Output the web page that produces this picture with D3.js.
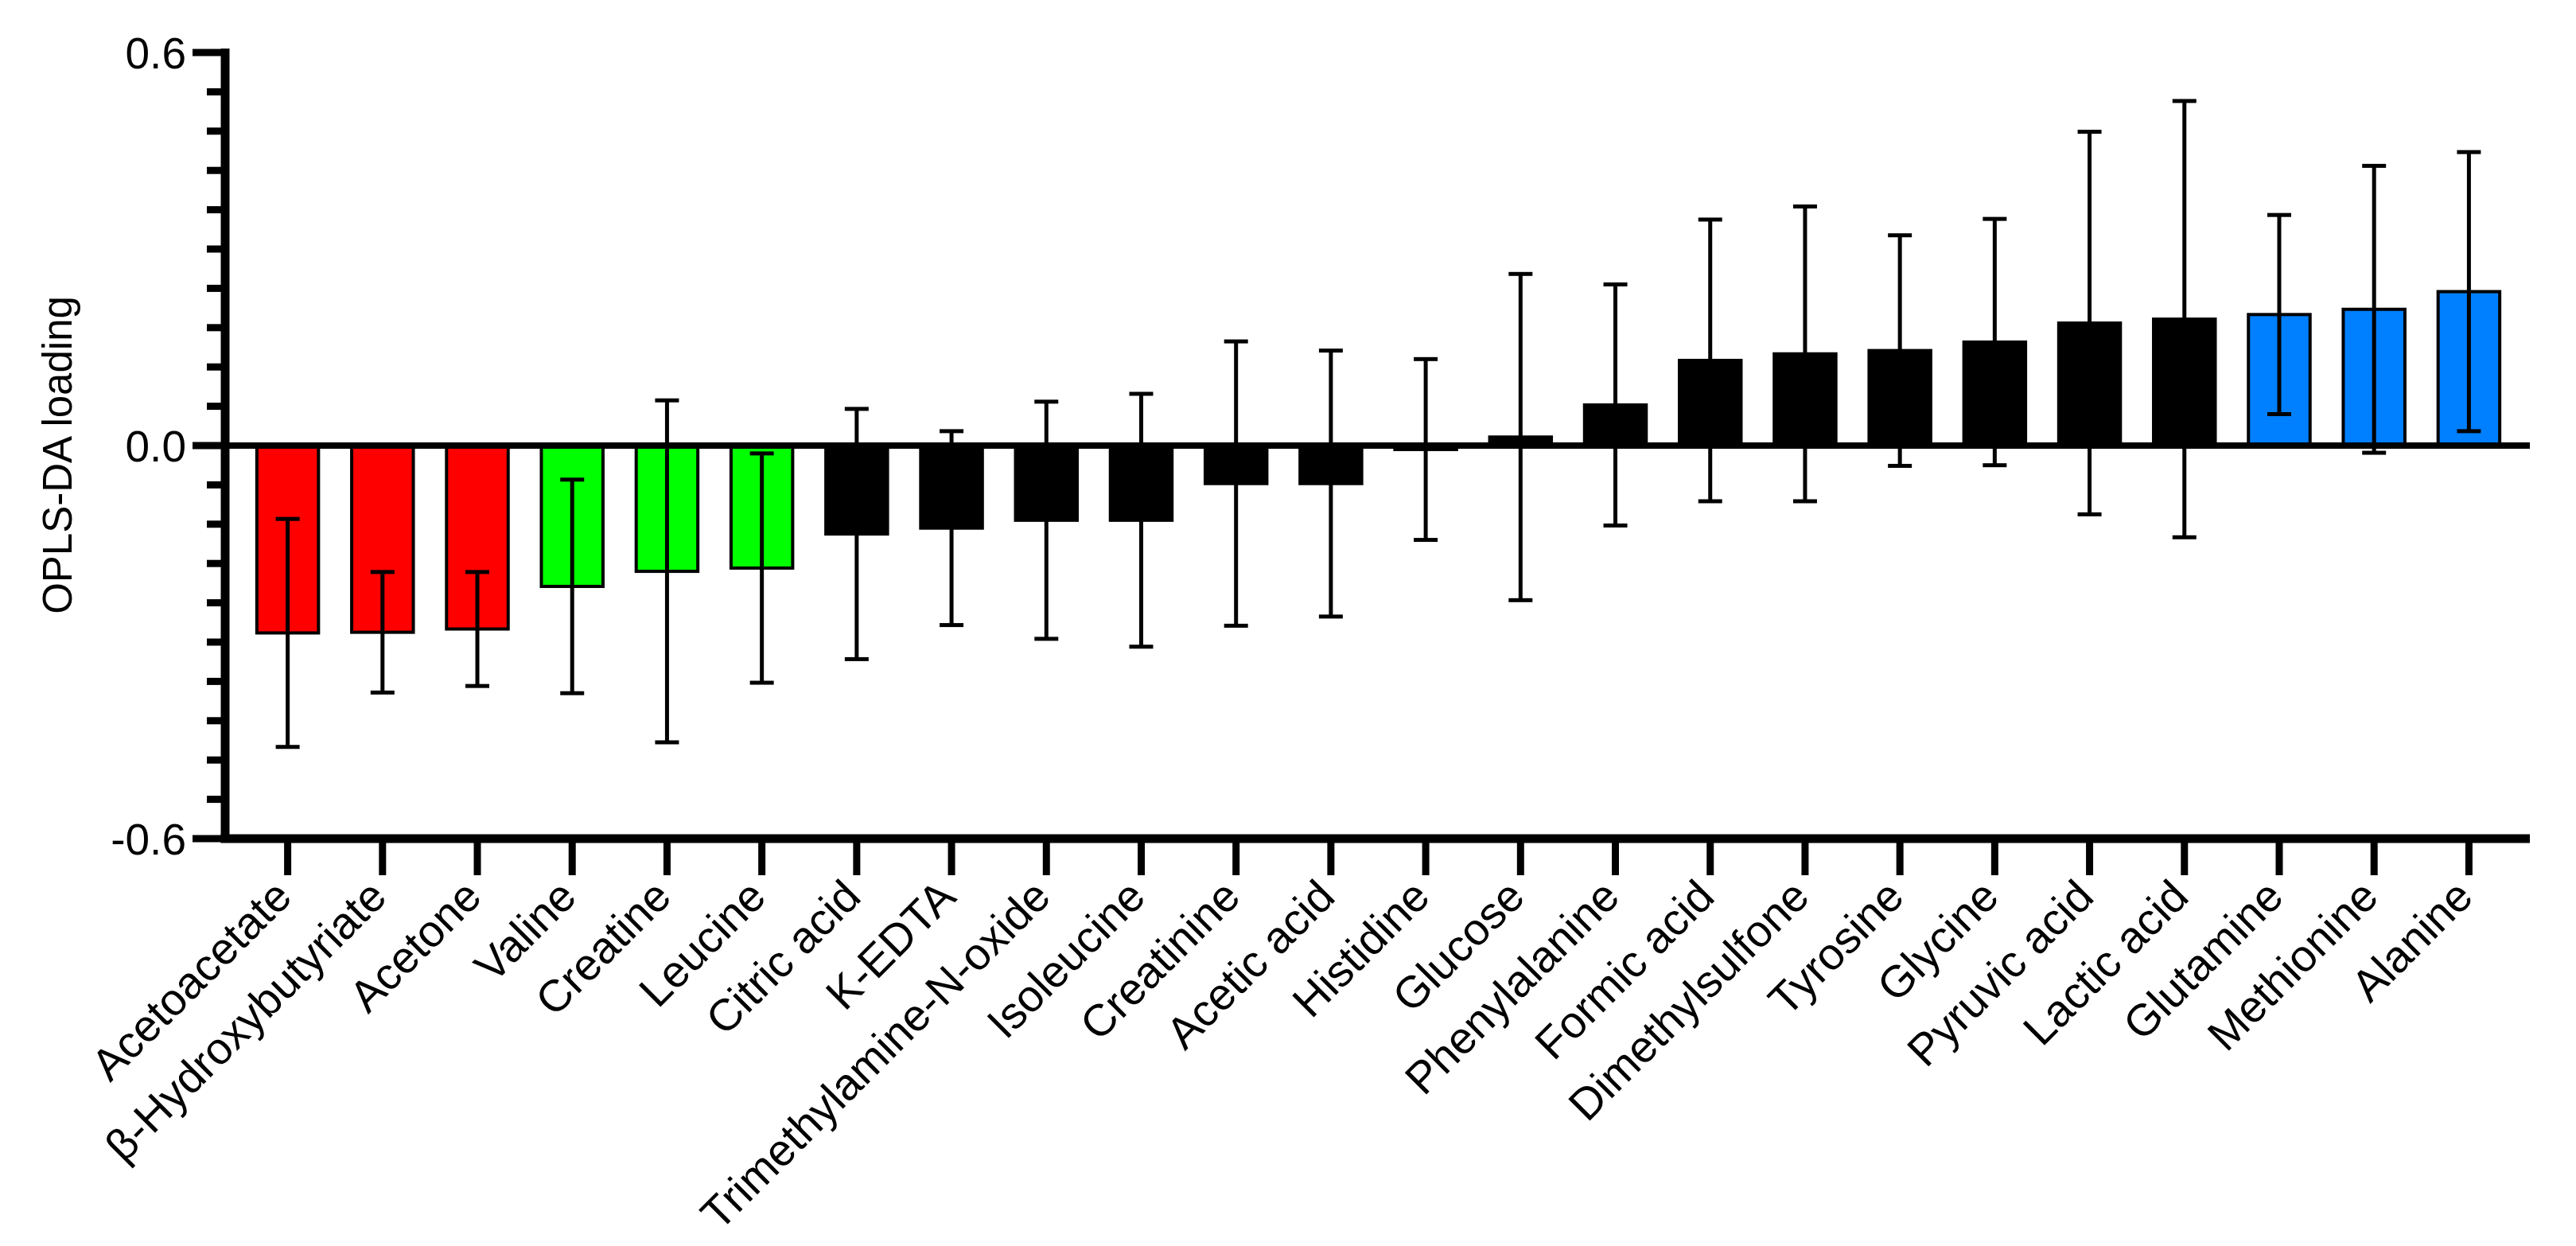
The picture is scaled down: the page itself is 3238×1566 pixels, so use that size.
<!DOCTYPE html>
<html>
<head>
<meta charset="utf-8">
<script src="https://cdn.jsdelivr.net/npm/d3@7"></script>
<style>
  body { margin: 0; background: #fff; }
  svg { display: block; font-family: "Liberation Sans", Arial, sans-serif; }
</style>
</head>
<body>
<svg id="chart" width="3238" height="1566"></svg>
<script>
// metabolites, left to right
const categories = ['Acetoacetate', 'β-Hydroxybutyriate', 'Acetone', 'Valine', 'Creatine', 'Leucine',
  'Citric acid', 'K-EDTA', 'Trimethylamine-N-oxide', 'Isoleucine', 'Creatinine', 'Acetic acid',
  'Histidine', 'Glucose', 'Phenylalanine', 'Formic acid', 'Dimethylsulfone', 'Tyrosine', 'Glycine',
  'Pyruvic acid', 'Lactic acid', 'Glutamine', 'Methionine', 'Alanine'];
const loadings = [-0.286, -0.285, -0.280, -0.215, -0.192, -0.187, -0.135, -0.126, -0.114, -0.114,
  -0.058, -0.058, -0.006, 0.013, 0.062, 0.130, 0.140, 0.145, 0.158, 0.187, 0.193, 0.200, 0.208, 0.235];
const errors = [0.174, 0.092, 0.087, 0.163, 0.261, 0.175, 0.191, 0.148, 0.181, 0.193,
  0.217, 0.203, 0.138, 0.249, 0.184, 0.215, 0.225, 0.176, 0.188, 0.292, 0.333, 0.152, 0.219, 0.213];
const groups = ['ketone', 'ketone', 'ketone', 'bcaa', 'bcaa', 'bcaa',
  'other', 'other', 'other', 'other', 'other', 'other', 'other', 'other', 'other', 'other',
  'other', 'other', 'other', 'other', 'other', 'up', 'up', 'up'];
const groupColors = { ketone: '#ff0000', bcaa: '#00ff00', other: '#000000', up: '#0080ff' };
const yDomain = [-0.6, 0.6];
const yLabelTicks = [-0.6, 0.0, 0.6];

const data = categories.map((c, i) => ({ name: c, value: loadings[i], err: errors[i], group: groups[i] }));

const svg = d3.select('#chart');

/* layout */
const axisX = 283, axisEnd = 3180;
const yTop = 66, yBottom = 1054;

const x = d3.scaleBand()
  .domain(categories)
  .range([302, 3163])
  .paddingInner(0.35)
  .paddingOuter(0.175);

const y = d3.scaleLinear().domain(yDomain).range([yBottom, yTop]);

/* Y axis: minor ticks every 0.06 */
const minorTicks = d3.range(-10, 11).map(i => +(i * 0.06).toFixed(2));
const yAxis = svg.append('g').attr('transform', 'translate(' + axisX + ',0)');
yAxis.append('line')
  .attr('x1', 0).attr('x2', 0)
  .attr('y1', y(0.6) - 5).attr('y2', y(-0.6) + 5)
  .attr('stroke', '#000').attr('stroke-width', 11);
yAxis.selectAll('.minor')
  .data(minorTicks)
  .enter()
  .append('line')
  .attr('x1', d => yLabelTicks.includes(d) ? -41 : -23)
  .attr('x2', 0)
  .attr('y1', d => y(d)).attr('y2', d => y(d))
  .attr('stroke', '#000').attr('stroke-width', 9);
yAxis.selectAll('.lbl')
  .data(yLabelTicks)
  .enter()
  .append('text')
  .attr('x', -49)
  .attr('y', d => y(d))
  .attr('dy', '0.36em')
  .attr('text-anchor', 'end')
  .attr('font-size', 55)
  .text(d => d3.format('.1f')(d).replace('−', '-'));

svg.append('text')
  .attr('transform', 'translate(90,' + (y(0) + 12) + ') rotate(-90)')
  .attr('text-anchor', 'middle')
  .attr('font-size', 51)
  .text('OPLS-DA loading');

/* bars */
svg.append('g')
  .selectAll('rect')
  .data(data)
  .enter()
  .append('rect')
  .attr('x', d => x(d.name))
  .attr('width', x.bandwidth())
  .attr('y', d => y(Math.max(0, d.value)))
  .attr('height', d => Math.abs(y(d.value) - y(0)))
  .attr('fill', d => groupColors[d.group])
  .attr('stroke', '#000')
  .attr('stroke-width', 4);

/* zero line */
svg.append('line')
  .attr('x1', axisX).attr('x2', axisEnd)
  .attr('y1', y(0)).attr('y2', y(0))
  .attr('stroke', '#000').attr('stroke-width', 8);

/* error bars */
const eb = svg.append('g').attr('stroke', '#000').attr('stroke-width', 5);
const cx = d => x(d.name) + x.bandwidth() / 2;
const capHalf = 15;
eb.selectAll('.v').data(data).enter().append('line')
  .attr('x1', cx).attr('x2', cx)
  .attr('y1', d => y(d.value + d.err)).attr('y2', d => y(d.value - d.err));
eb.selectAll('.t').data(data).enter().append('line')
  .attr('x1', d => cx(d) - capHalf).attr('x2', d => cx(d) + capHalf)
  .attr('y1', d => y(d.value + d.err)).attr('y2', d => y(d.value + d.err));
eb.selectAll('.b').data(data).enter().append('line')
  .attr('x1', d => cx(d) - capHalf).attr('x2', d => cx(d) + capHalf)
  .attr('y1', d => y(d.value - d.err)).attr('y2', d => y(d.value - d.err));

/* X axis at bottom */
const xAxis = d3.axisBottom(x).tickSize(46).tickPadding(0).tickSizeOuter(0);
const gx = svg.append('g')
  .attr('transform', 'translate(0,' + yBottom + ')')
  .call(xAxis);
gx.select('.domain').remove();
gx.append('line')
  .attr('x1', axisX - 5.5).attr('x2', axisEnd)
  .attr('y1', 0).attr('y2', 0)
  .attr('stroke', '#000').attr('stroke-width', 11);
gx.selectAll('.tick line').attr('stroke', '#000').attr('stroke-width', 9);
gx.selectAll('.tick text')
  .attr('font-size', 56)
  .attr('fill', '#000')
  .attr('text-anchor', 'end')
  .attr('dy', 0)
  .attr('y', 0)
  .attr('x', 0)
  .attr('transform', 'translate(8,76) rotate(-45)');
</script>
</body>
</html>
